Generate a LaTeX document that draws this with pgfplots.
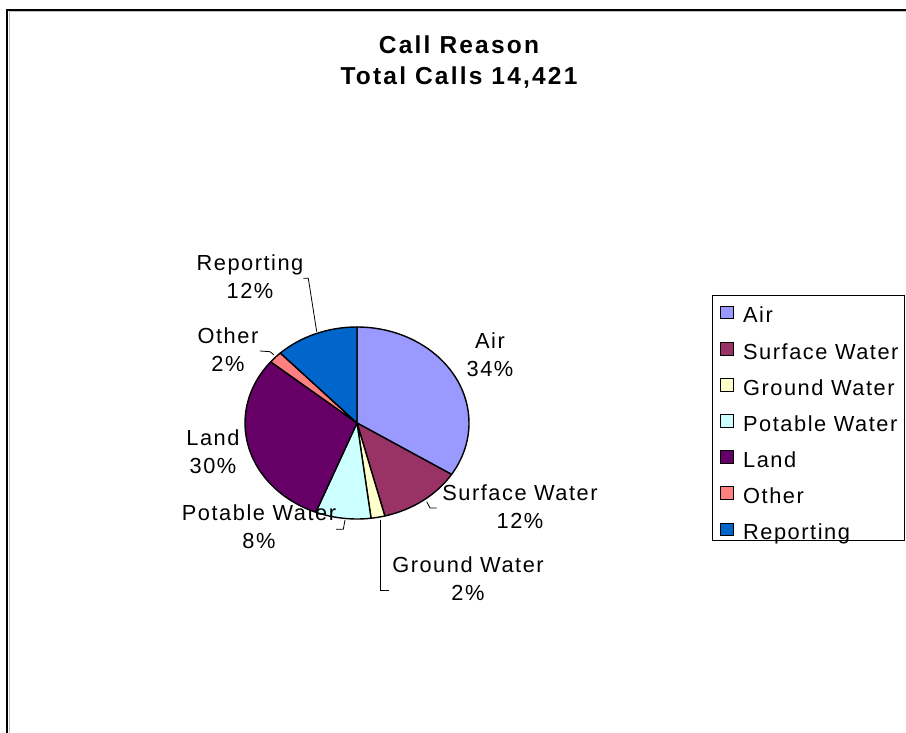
\documentclass[border=0pt]{standalone}
\usepackage{fontspec}
\setmainfont{Liberation Sans}
\newfontfamily\labelfont[LetterSpace=7]{Liberation Sans}
\newfontfamily\titlefont[LetterSpace=9]{Liberation Sans}
\usepackage{pgfplots}
\pgfplotsset{compat=1.18}
\usepackage{pgfplotstable}

\definecolor{airc}{HTML}{9999FF}
\definecolor{surfc}{HTML}{993366}
\definecolor{groundc}{HTML}{FFFFCC}
\definecolor{potc}{HTML}{CCFFFF}
\definecolor{landc}{HTML}{660066}
\definecolor{otherc}{HTML}{FF8080}
\definecolor{repc}{HTML}{0066CC}

\newcommand\lblfont{\labelfont\fontsize{21.8bp}{28bp}\selectfont}

% share of calls by reason (percent); lx, ly = label centre, measured from the top left
\pgfplotstableread[col sep=comma]{
name,value,color,lx,ly
Air,34,airc,490,355
Surface Water,12,surfc,520,507
Ground Water,2,groundc,468,579
Potable Water,8,potc,259,527
Land,30,landc,213,452
Other,2,otherc,228,350
Reporting,12,repc,250,277
}\calldata

% slice angles: clockwise, starting at 12 o'clock
\pgfplotstablegetrowsof{\calldata}
\pgfmathtruncatemacro\nslices{\pgfplotsretval-1}
\def\pietotal{0}
\pgfplotsforeachungrouped \i in {0,...,\nslices}{%
  \pgfplotstablegetelem{\i}{value}\of\calldata
  \pgfmathsetmacro\pietotal{\pietotal+\pgfplotsretval}%
}
\def\cumangle{90}
\pgfplotsforeachungrouped \i in {0,...,\nslices}{%
  \pgfplotstablegetelem{\i}{value}\of\calldata
  \expandafter\xdef\csname pv\i\endcsname{\pgfplotsretval}%
  \pgfmathsetmacro\nextangle{\cumangle-360*\pgfplotsretval/\pietotal}%
  \expandafter\xdef\csname ps\i\endcsname{\cumangle}%
  \expandafter\xdef\csname pe\i\endcsname{\nextangle}%
  \global\let\cumangle\nextangle
  \pgfplotstablegetelem{\i}{name}\of\calldata
  \expandafter\xdef\csname pn\i\endcsname{\pgfplotsretval}%
  \pgfplotstablegetelem{\i}{color}\of\calldata
  \expandafter\xdef\csname pc\i\endcsname{\pgfplotsretval}%
  \pgfplotstablegetelem{\i}{lx}\of\calldata
  \expandafter\xdef\csname px\i\endcsname{\pgfplotsretval}%
  \pgfplotstablegetelem{\i}{ly}\of\calldata
  \pgfmathsetmacro\tmp{733-\pgfplotsretval}%
  \expandafter\xdef\csname py\i\endcsname{\tmp}%
}

\pgfplotsset{legend image code/.code={%
  \draw[#1,draw=black,line width=1bp] (0bp,-1.5bp) rectangle (12.5bp,11bp);}}

\begin{document}
\begin{tikzpicture}
\useasboundingbox (0,0) rectangle (906bp,733bp);
\begin{axis}[
  scale only axis, width=906bp, height=733bp,
  xmin=0, xmax=906, ymin=0, ymax=733,
  hide axis, clip=true,
  legend style={draw=none, fill=none,
    at={(axis description cs:0.79470,0.58281)}, anchor=north west,
    inner sep=0bp, row sep=15.1bp, column sep=9.5bp,
    nodes={inner sep=0bp, text height=15bp, text depth=4bp, font=\lblfont},
    cells={anchor=west}},
]
% chart frame
\draw[gray!50, line width=1bp] (axis cs:9.3,0) -- (axis cs:9.3,721.6) -- (axis cs:906,721.6);
\draw[black, line width=2.2bp] (axis cs:7.3,0) -- (axis cs:7.3,723.3) -- (axis cs:906,723.3);

% title
\node[align=center, font=\titlefont\bfseries\fontsize{24.5bp}{31.7bp}\selectfont]
  at (axis cs:459,671) {Call Reason\\Total Calls 14,421};

% slices, labels and legend entries
\pgfplotsinvokeforeach{0,...,6}{%
  \edef\slice{\noexpand\fill[fill=\csname pc#1\endcsname,draw=black,line width=1.4bp,line join=round]
    (axis cs:357,310) -- ++(\csname ps#1\endcsname:112bp and 96bp)
    arc[start angle=\csname ps#1\endcsname,end angle=\csname pe#1\endcsname,x radius=112bp,y radius=96bp] -- cycle;}%
  \slice
  \edef\lbl{\noexpand\node[align=center,font=\noexpand\lblfont]
    at (axis cs:\csname px#1\endcsname,\csname py#1\endcsname)
    {\csname pn#1\endcsname\noexpand\\\csname pv#1\endcsname\noexpand\%};}%
  \lbl
  \addlegendimage{fill=\csname pc#1\endcsname}
  \addlegendentry{\csname pn#1\endcsname}
}

% leader lines
\draw[black, line width=0.8bp] (axis cs:426.7,231.3) -- (axis cs:430,225) -- (axis cs:436.7,225);
\draw[black, line width=0.8bp] (axis cs:380.7,213) -- (axis cs:380.7,143) -- (axis cs:389,143);
\draw[black, line width=0.8bp] (axis cs:345,213) -- (axis cs:343.3,203.7) -- (axis cs:336,203.7);
\draw[black, line width=0.8bp] (axis cs:260,382) -- (axis cs:270,381.3) -- (axis cs:274,378);
\draw[black, line width=0.8bp] (axis cs:303.3,454.7) -- (axis cs:308.3,454.7) -- (axis cs:316.7,401.3);

% legend frame
\draw[black, line width=1bp] (axis cs:712.7,437) rectangle (axis cs:904.5,192.3);
\end{axis}
\end{tikzpicture}
\end{document}
